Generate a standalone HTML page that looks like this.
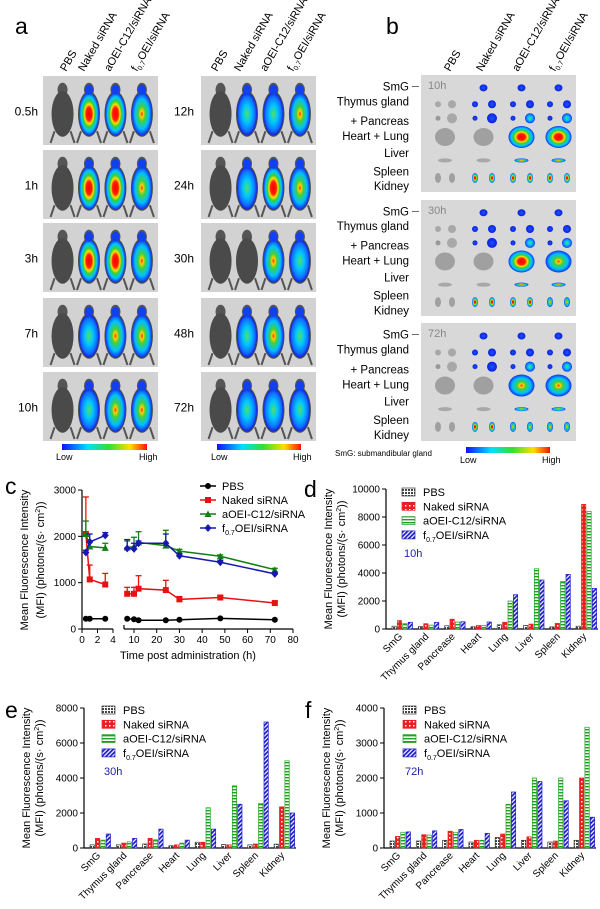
<!DOCTYPE html>
<html><head><meta charset="utf-8"><style>
body{margin:0;background:#fff}
svg{display:block;font-family:"Liberation Sans",Arial,sans-serif}
</style></head><body>
<svg id="fig" width="600" height="909" viewBox="0 0 600 909" xmlns="http://www.w3.org/2000/svg">
<defs>
<linearGradient id="cbar" x1="0" x2="1" y1="0" y2="0">
<stop offset="0" stop-color="#1010ff"/><stop offset="0.3" stop-color="#00e0ff"/><stop offset="0.55" stop-color="#30e030"/><stop offset="0.8" stop-color="#ffe000"/><stop offset="1" stop-color="#ff1000"/></linearGradient>
<radialGradient id="hot"><stop offset="0" stop-color="#ff0000"/><stop offset="0.3" stop-color="#ff2000"/><stop offset="0.45" stop-color="#ffe000"/><stop offset="0.6" stop-color="#30d040"/><stop offset="0.8" stop-color="#00c8ff"/><stop offset="1" stop-color="#1030f0"/></radialGradient>
<radialGradient id="warm"><stop offset="0" stop-color="#ff2000"/><stop offset="0.15" stop-color="#ffd000"/><stop offset="0.35" stop-color="#40d040"/><stop offset="0.7" stop-color="#00c0ff"/><stop offset="1" stop-color="#1030f0"/></radialGradient>
<radialGradient id="cool"><stop offset="0" stop-color="#50e060"/><stop offset="0.4" stop-color="#00c8ff"/><stop offset="0.8" stop-color="#1070ff"/><stop offset="1" stop-color="#1020e0"/></radialGradient>
<radialGradient id="blue"><stop offset="0" stop-color="#2050ff"/><stop offset="1" stop-color="#0820e0"/></radialGradient>
<pattern id="pPBS" width="3" height="3" patternUnits="userSpaceOnUse"><rect width="3" height="3" fill="#fff"/><rect width="2" height="2" fill="#444"/></pattern>
<pattern id="pNaked" width="4" height="4" patternUnits="userSpaceOnUse"><rect width="4" height="4" fill="#e82020"/><rect x="1" y="1" width="1.5" height="1.5" fill="#fff"/></pattern>
<pattern id="pA" width="4" height="3" patternUnits="userSpaceOnUse"><rect width="4" height="3" fill="#fff"/><rect width="4" height="1.4" fill="#20a020"/></pattern>
<pattern id="pF" width="3" height="3" patternUnits="userSpaceOnUse" patternTransform="rotate(45)"><rect width="3" height="3" fill="#fff"/><rect width="1.8" height="3" fill="#2020c8"/></pattern>
</defs>
<g id="imgs"></g>
<g id="charts"></g>
</svg>
<script>
const NS="http://www.w3.org/2000/svg";
function mk(parent,tag,attrs,text){const e=document.createElementNS(NS,tag);for(const k in attrs)e.setAttribute(k,attrs[k]);if(text!==undefined)e.textContent=text;parent.appendChild(e);return e;}
const imgs=document.getElementById('imgs');
const charts=document.getElementById('charts');

// ---------------- Panel a ----------------
const aTimesL=['0.5h','1h','3h','7h','10h'];
const aTimesR=['12h','24h','30h','48h','72h'];
const groups=['PBS','Naked siRNA','aOEI-C12/siRNA','f0.7OEI/siRNA'];
const aLevelsL=[[0,3,3,2],[0,3,3,2],[0,3,3,2],[0,1,2,2],[0,1,2,2]];
const aLevelsR=[[0,1,1,2],[0,1,3,2],[0,0,2,1],[0,1,2,1],[0,1,1,1]];
const rowY=[76,150,223,298,372];
const gradFor=['none','cool','warm','hot'];
function header(g,x,y,txt,name){
  const t=mk(g,'text',{x:x,y:y,'font-size':11,transform:`rotate(-60 ${x} ${y})`,fill:'#000'});
  
  
  if(txt==='f0.7OEI/siRNA'){t.textContent='f';mk(t,'tspan',{'font-size':7,dy:3},'0.7');mk(t,'tspan',{dy:-3},'OEI/siRNA');}
  else t.textContent=txt;
}
function mouseTile(x0,y0,w,h,levels,label,lx){
  const g=mk(imgs,'g',{});
  
  
  mk(g,'rect',{x:x0,y:y0,width:w,height:h,fill:'#d2d2d2'});
  const fr=[0.17,0.4,0.63,0.86];
  levels.forEach((lv,i)=>{
    const cx=x0+w*fr[i], cy=y0+h*0.55;
    mk(g,'ellipse',{cx:cx,cy:cy-h*0.35,rx:5,ry:7,fill:'#555'});
    mk(g,'ellipse',{cx:cx,cy:cy,rx:11,ry:h*0.33,fill:'#4a4a4a'});
    mk(g,'line',{x1:cx-8,y1:cy+h*0.25,x2:cx-12,y2:y0+h-2,stroke:'#555','stroke-width':2});
    mk(g,'line',{x1:cx+8,y1:cy+h*0.25,x2:cx+12,y2:y0+h-2,stroke:'#555','stroke-width':2});
    if(lv>0){
      mk(g,'ellipse',{cx:cx,cy:cy,rx:10,ry:h*0.31,fill:'url(#'+gradFor[lv]+')'});
      mk(g,'ellipse',{cx:cx,cy:cy-h*0.35,rx:4,ry:5,fill:'#1040f0'});
    }
  });
  const t=mk(imgs,'text',{x:lx,y:y0+h/2+5,'font-size':12,'text-anchor':'end'},label);
  
  
}
aTimesL.forEach((t,i)=>mouseTile(43,rowY[i],115,69,aLevelsL[i],t,38));
aTimesR.forEach((t,i)=>mouseTile(201,rowY[i],115,69,aLevelsR[i],t,194));
const ha=mk(imgs,'g',{});
[66,84,110,137].forEach((x,i)=>header(ha,x,72,groups[i],'column-header-a1-'+i));
[217,240,266,293].forEach((x,i)=>header(ha,x,72,groups[i],'column-header-a2-'+i));
function colorbar(x,y,w,name){
  const r=mk(imgs,'rect',{x:x,y:y,width:w,height:6,fill:'url(#cbar)'});
  
  
  mk(imgs,'text',{x:x-6,y:y+16,'font-size':9},'Low');
  mk(imgs,'text',{x:x+w-8,y:y+16,'font-size':9},'High');
}
colorbar(62,444,85,'colorbar-a1');
colorbar(217,444,84,'colorbar-a2');
const la=mk(imgs,'text',{x:15,y:34,'font-size':23},'a');



// ---------------- Panel b ----------------
const lb=mk(imgs,'text',{x:386,y:34,'font-size':23},'b');


const hb=mk(imgs,'g',{});
[450,482,518,555].forEach((x,i)=>header(hb,x,72,groups[i],'column-header-b-'+i));
const organs=['SmG','Thymus gland','+ Pancreas','Heart + Lung','Liver','Spleen','Kidney'];
const bBoxes=[[75,117,'10h'],[200,116,'30h'],[323,118,'72h']];
const bLevels=[[0,1,3,3],[0,1,3,2],[0,1,2,2]];
bBoxes.forEach((bx,bi)=>{
  const g=mk(imgs,'g',{});
  
  
  const y0=bx[0],h=bx[1];
  mk(g,'rect',{x:421,y:y0,width:155,height:h,fill:'#d8d8d8'});
  mk(g,'text',{x:428,y:y0+14,'font-size':11,fill:'#888'},bx[2]);
  const oy=[0.11,0.25,0.37,0.53,0.73,0.88];
  const cols=[[438,452],[475,492],[513,530],[550,567]];
  cols.forEach((c,ci)=>{
    const lv=bLevels[bi][ci];
    const blue=ci===0?'#a8a8a8':'url(#blue)';
    if(ci>0) mk(g,'ellipse',{cx:(c[0]+c[1])/2,cy:y0+h*oy[0],rx:4,ry:3.5,fill:blue});
    mk(g,'ellipse',{cx:c[0],cy:y0+h*oy[1],rx:3,ry:3,fill:blue});
    mk(g,'ellipse',{cx:c[1],cy:y0+h*oy[1],rx:4,ry:4,fill:blue});
    mk(g,'ellipse',{cx:c[0],cy:y0+h*oy[2],rx:2.5,ry:2.5,fill:ci===0?'#999':blue});
    mk(g,'ellipse',{cx:c[1],cy:y0+h*oy[2],rx:5,ry:5,fill:ci<2?blue:'url(#cool)'});
    mk(g,'ellipse',{cx:(c[0]+c[1])/2,cy:y0+h*oy[3],rx:ci<2?10:13,ry:ci<2?9:11,fill:ci<2?'#a0a0a0':'url(#'+gradFor[lv]+')'});
    mk(g,'ellipse',{cx:(c[0]+c[1])/2,cy:y0+h*oy[4],rx:7,ry:2,fill:ci<2?'#a8a8a8':'url(#warm)'});
    mk(g,'ellipse',{cx:c[0],cy:y0+h*oy[5],rx:3,ry:5,fill:ci===0?'#a0a0a0':'url(#'+(lv>=3||ci===1?'hot':'warm')+')'});
    mk(g,'ellipse',{cx:c[1],cy:y0+h*oy[5],rx:3,ry:5,fill:ci===0?'#a0a0a0':'url(#'+(lv>=3||ci===1?'hot':'warm')+')'});
  });
  const ly=[0.1,0.23,0.4,0.53,0.68,0.84,0.97].map(f=>y0+4+h*f*0.98);
  organs.forEach((o,oi)=>{
    const t=mk(imgs,'text',{x:409,y:ly[oi],'font-size':11.5,'text-anchor':'end'},o);
    
    
  });
  mk(imgs,'line',{x1:412,y1:ly[0]-4,x2:419,y2:ly[0]-4,stroke:'#444','stroke-width':0.8});
});
const sm=mk(imgs,'text',{x:335,y:456,'font-size':8},'SmG: submandibular gland');


colorbar(466,447,84,'colorbar-b');

// ---------------- Panel c data ----------------
const cTimes=[0.5,1,3,7,10,12,24,30,48,72];
const cPBS=[220,220,220,220,210,190,190,200,230,200];
const cNaked=[2050,1070,960,760,760,870,840,640,680,560];
const cNakedErr=[2850,1380,1200,900,900,1150,1050,700,720,600];
const cAOEI=[2050,1780,1750,1760,1780,1870,1800,1680,1570,1280];
const cAOEIErr=[2330,1900,1850,1900,1980,2100,2130,1720,1600,1310];
const cF07=[1650,1880,2020,1740,1730,1850,1850,1580,1440,1190];
const cF07Err=[1700,2050,2080,1930,1850,1900,2050,1620,1480,1220];
const cYTicks=[0,1000,2000,3000];
const cXTicksL=[0,2,4];
const cXTicksR=[10,20,30,40,50,60,70,80];

// ---------------- Panels d,e,f data ----------------
const organCats=['SmG','Thymus gland','Pancrease','Heart','Lung','Liver','Spleen','Kidney'];
const seriesNames=['PBS','Naked siRNA','aOEI-C12/siRNA','f0.7OEI/siRNA'];
const dPBS=[200,170,230,160,300,250,150,200];
const dNaked=[600,380,700,250,480,350,400,8900];
const dAOEI=[380,280,500,260,2000,4300,3400,8400];
const dF07=[480,480,520,500,2450,3500,3900,2900];
const ePBS=[180,180,230,130,330,200,180,220];
const eNaked=[550,280,550,180,330,180,230,2350];
const eAOEI=[450,350,470,280,2300,3550,2550,4980];
const eF07=[800,550,1080,450,1080,2500,7200,2000];
const fPBS=[200,200,220,170,300,220,170,220];
const fNaked=[330,380,480,220,400,320,200,2000];
const fAOEI=[450,370,450,220,1250,2000,2000,3450];
const fF07=[460,490,530,420,1600,1900,1350,880];
const dTicks=[0,2000,4000,6000,8000,10000];
const eTicks=[0,2000,4000,6000,8000];
const fTicks=[0,1000,2000,3000,4000];

function txt(g,x,y,s,size,anchor,name){const t=mk(g,'text',{x:x,y:y,'font-size':size,'text-anchor':anchor||'start'},s);if(name){}return t;}
function yTitles(g,x1,x2,cy){
  const t1=mk(g,'text',{x:x1,y:cy,'font-size':11,'text-anchor':'middle',transform:`rotate(-90 ${x1} ${cy})`},'Mean Fluorescence Intensity');
  
  
  const t2=mk(g,'text',{x:x2,y:cy,'font-size':11,'text-anchor':'middle',transform:`rotate(-90 ${x2} ${cy})`});
  
  
  t2.textContent='(MFI)   (photons/(s· cm';
  mk(t2,'tspan',{'font-size':7,dy:-4},'2');
  mk(t2,'tspan',{dy:4},'))');
}

// ---- chart c ----
(function(){
  const g=mk(charts,'g',{});
  
  
  const y=v=>629-v*139/3000;
  const x=t=>t<=4?82+t*31/4:134+(t-10)*159/70;
  txt(g,5,494,'c',23,'start','panel-label-c');
  mk(g,'line',{x1:82,y1:490,x2:82,y2:629,stroke:'#000','stroke-width':1.2});
  mk(g,'line',{x1:82,y1:629,x2:113,y2:629,stroke:'#000','stroke-width':1.2});
  mk(g,'line',{x1:124,y1:629,x2:293,y2:629,stroke:'#000','stroke-width':1.2});
  mk(g,'line',{x1:124,y1:625,x2:124,y2:629,stroke:'#000','stroke-width':1.2});
  cYTicks.forEach(v=>{mk(g,'line',{x1:78,y1:y(v),x2:82,y2:y(v),stroke:'#000'});txt(g,76,y(v)+3.5,String(v),10,'end');});
  cXTicksL.concat(cXTicksR).forEach(v=>{mk(g,'line',{x1:x(v),y1:629,x2:x(v),y2:633,stroke:'#000'});txt(g,x(v),643,String(v),10,'middle');});
  txt(g,188,659,'Time post administration (h)',11,'middle','x-axis-title');
  yTitles(g,28,44,560);
  const series=[[cPBS,null,'#000','circle'],[cNaked,cNakedErr,'#e81010','square'],[cAOEI,cAOEIErr,'#108010','tri'],[cF07,cF07Err,'#1818b0','diamond']];
  series.forEach((s,si)=>{
    const [vals,err,col,shape]=s;
    const sg=mk(g,'g',{});
    
    
    [cTimes.map((t,i)=>i).filter(i=>cTimes[i]<=4),cTimes.map((t,i)=>i).filter(i=>cTimes[i]>=7)].forEach(idx=>{
      mk(sg,'polyline',{points:idx.map(i=>x(cTimes[i])+','+y(vals[i])).join(' '),fill:'none',stroke:col,'stroke-width':1.5});
    });
    cTimes.forEach((t,i)=>{
      const px=x(t),py=y(vals[i]);
      if(err){mk(sg,'line',{x1:px,y1:py,x2:px,y2:y(err[i]),stroke:col,'stroke-width':1.3});mk(sg,'line',{x1:px-3,y1:y(err[i]),x2:px+3,y2:y(err[i]),stroke:col,'stroke-width':1.3});}
      let m;
      if(shape==='circle')m=mk(sg,'circle',{cx:px,cy:py,r:3,fill:col});
      else if(shape==='square')m=mk(sg,'rect',{x:px-3,y:py-3,width:6,height:6,fill:col});
      else if(shape==='tri')m=mk(sg,'polygon',{points:`${px},${py-3.5} ${px+3.5},${py+3} ${px-3.5},${py+3}`,fill:col});
      else m=mk(sg,'polygon',{points:`${px},${py-4} ${px+3.5},${py} ${px},${py+4} ${px-3.5},${py}`,fill:col});
      
      
    });
    const ly=486+si*14;
    const le=mk(g,'g',{});
    
    
    mk(le,'line',{x1:200,y1:ly,x2:216,y2:ly,stroke:col,'stroke-width':1.5});
    if(shape==='circle')mk(le,'circle',{cx:208,cy:ly,r:3,fill:col});
    else if(shape==='square')mk(le,'rect',{x:205,y:ly-3,width:6,height:6,fill:col});
    else if(shape==='tri')mk(le,'polygon',{points:`208,${ly-3.5} 211.5,${ly+3} 204.5,${ly+3}`,fill:col});
    else mk(le,'polygon',{points:`208,${ly-4} 211.5,${ly} 208,${ly+4} 204.5,${ly}`,fill:col});
    const t=txt(le,222,ly+4,'',11);
    if(si===3){t.textContent='f';mk(t,'tspan',{'font-size':7,dy:3},'0.7');mk(t,'tspan',{dy:-3},'OEI/siRNA');}
    else t.textContent=seriesNames[si];
  });
})();

// ---- bar charts ----
function barChart(opts){
  const g=mk(charts,'g',{});
  
  
  const y=v=>opts.y0-v*opts.h/opts.max;
  txt(g,opts.lx,opts.ly,opts.letter,23,'start','panel-label-'+opts.letter);
  mk(g,'line',{x1:opts.ax,y1:opts.y0-opts.h,x2:opts.ax,y2:opts.y0,stroke:'#000','stroke-width':1.2});
  mk(g,'line',{x1:opts.ax,y1:opts.y0,x2:opts.ax+212,y2:opts.y0,stroke:'#000','stroke-width':1.2});
  opts.ticks.forEach(v=>{mk(g,'line',{x1:opts.ax-4,y1:y(v),x2:opts.ax,y2:y(v),stroke:'#000'});txt(g,opts.ax-6,y(v)+3.5,String(v),10,'end');});
  yTitles(g,opts.ax-54,opts.ax-41,opts.y0-70);
  const fills=['url(#pPBS)','url(#pNaked)','url(#pA)','url(#pF)'];
  const strokes=['#333','#e82020','#20a020','#2020c8'];
  const step=26.3,bw=4.3,pitch=5.4,start=opts.ax+6;
  organCats.forEach((c,ci)=>{
    const gx=start+ci*step;
    opts.series.forEach((arr,si)=>{
      const v=arr[ci];
      const b=mk(g,'rect',{x:gx+si*pitch,y:y(v),width:bw,height:opts.y0-y(v),fill:fills[si],stroke:strokes[si],'stroke-width':0.7});
      
      
    });
    const cx=gx+11, cy=opts.y0+8;
    const t=mk(g,'text',{x:cx,y:cy,'font-size':10,'text-anchor':'end',transform:`rotate(-45 ${cx} ${cy})`},c);
    
    
  });
  seriesNames.forEach((s,si)=>{
    const ly=opts.legY+si*14.3;
    const le=mk(g,'g',{});
    
    
    mk(le,'rect',{x:opts.legX,y:ly-8,width:13,height:8,fill:fills[si],stroke:strokes[si],'stroke-width':0.7});
    const t=txt(le,opts.legX+21,ly,'',11);
    if(si===3){t.textContent='f';mk(t,'tspan',{'font-size':7,dy:3},'0.7');mk(t,'tspan',{dy:-3},'OEI/siRNA');}
    else t.textContent=s;
  });
  const tl=mk(g,'text',{x:opts.legX+2,y:opts.legY+61,'font-size':11,fill:'#2020b0'},opts.time);
  
  
}
barChart({name:'chart-d',letter:'d',lx:304,ly:497,ax:386,y0:629,h:140,max:10000,ticks:dTicks,series:[dPBS,dNaked,dAOEI,dF07],legX:402,legY:496,time:'10h'});
barChart({name:'chart-e',letter:'e',lx:5,ly:718,ax:84,y0:848,h:140,max:8000,ticks:eTicks,series:[ePBS,eNaked,eAOEI,eF07],legX:102,legY:714,time:'30h'});
barChart({name:'chart-f',letter:'f',lx:305,ly:718,ax:384,y0:848,h:140,max:4000,ticks:fTicks,series:[fPBS,fNaked,fAOEI,fF07],legX:403,legY:714,time:'72h'});
</script>
</body></html>
